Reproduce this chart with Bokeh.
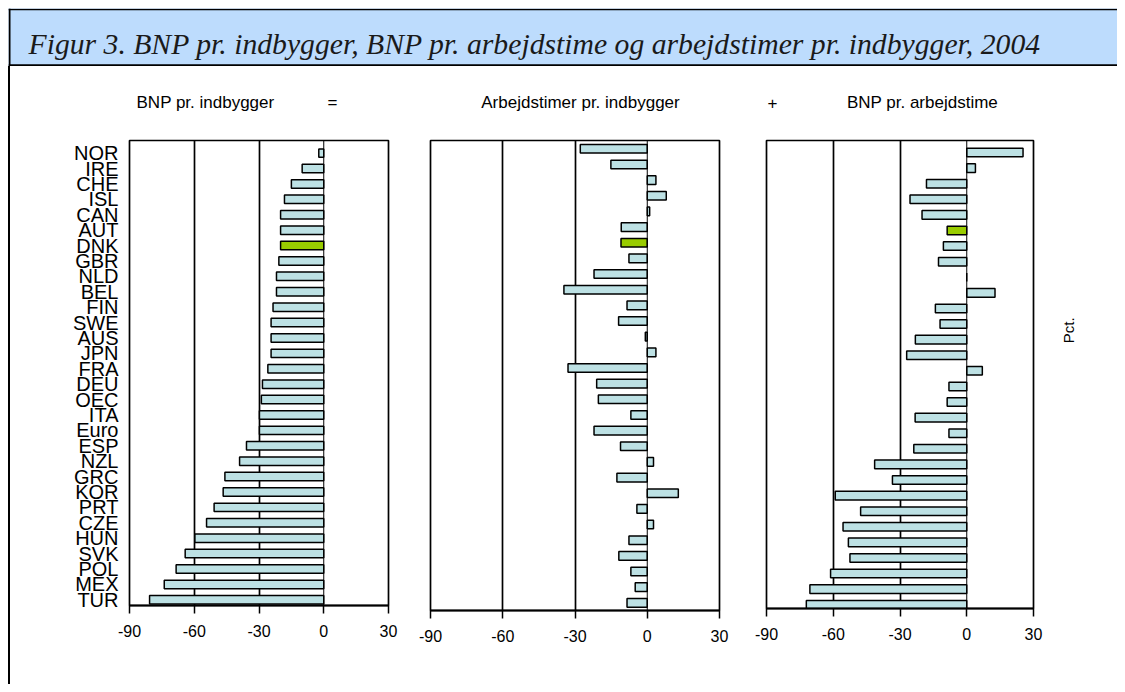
import math
from bokeh.plotting import figure
from bokeh.layouts import row, column
from bokeh.models import Range1d, FixedTicker, Div, ColumnDataSource, Span
from bokeh.core.properties import value
from bokeh.embed import file_html
from bokeh.resources import INLINE

# ---------------- data ----------------
countries = ["NOR", "IRE", "CHE", "ISL", "CAN", "AUT", "DNK", "GBR", "NLD", "BEL",
             "FIN", "SWE", "AUS", "JPN", "FRA", "DEU", "OEC", "ITA", "Euro", "ESP",
             "NZL", "GRC", "KOR", "PRT", "CZE", "HUN", "SVK", "POL", "MEX", "TUR"]

gdp_per_capita = [-2.3, -10.0, -15.0, -18.2, -20.0, -20.0, -20.0, -20.8, -21.9, -21.9,
                  -23.5, -24.4, -24.4, -24.4, -25.9, -28.4, -28.9, -29.8, -29.8, -35.8,
                  -39.0, -45.8, -46.6, -50.8, -54.3, -59.7, -64.2, -68.4, -73.9, -80.7]

hours_per_capita = [-27.8, -15.1, 3.6, 7.9, 1.0, -10.8, -10.9, -7.6, -22.1, -34.6,
                    -8.4, -11.9, -0.8, 3.6, -32.9, -21.0, -20.3, -6.8, -22.1, -11.1,
                    2.6, -12.6, 12.9, -4.3, 2.6, -7.6, -11.8, -6.8, -5.0, -8.4]

gdp_per_hour = [25.3, 3.9, -18.1, -25.5, -20.1, -8.8, -10.5, -12.7, 0.0, 12.7,
                -14.1, -12.0, -23.1, -27.0, 7.0, -8.0, -8.8, -23.2, -8.0, -23.8,
                -41.4, -33.4, -59.1, -47.7, -55.6, -53.2, -52.5, -61.2, -70.5, -72.1]

highlight = ["DNK", "DNK", "AUT"]   # highlighted (green) bar per panel

x_ticks = [-90, -60, -30, 0, 30]

title_text = "Figur 3. BNP pr. indbygger, BNP pr. arbejdstime og arbejdstimer pr. indbygger, 2004"
headers = ["BNP pr. indbygger", "=", "Arbejdstimer pr. indbygger", "+", "BNP pr. arbejdstime"]
unit_label = "Pct."

# ---------------- styles ----------------
BAR = "#BDE1E4"
GREEN = "#99CC00"
BAND = "#BDDCFD"
SANS = "Liberation Sans"

n = len(countries)
ypos = [n - 1 - i for i in range(n)]


def bare(fig):
    fig.grid.visible = False
    fig.outline_line_color = None
    return fig


# title band (open on the right, like the reference)
tf = figure(width=1109, height=58, x_range=Range1d(8, 1117), y_range=Range1d(66, 8),
            min_border=0, toolbar_location=None, output_backend="svg",
            x_axis_location=None, y_axis_location=None)
tf.grid.visible = False
tf.background_fill_color = BAND
tf.outline_line_color = None
tf.add_layout(Span(location=9, dimension="width", line_color="black", line_width=1.5))
tf.add_layout(Span(location=65, dimension="width", line_color="black", line_width=2.5))
tf.add_layout(Span(location=9, dimension="height", line_color="black", line_width=2))
tf.text(x=[28], y=[43], text=[title_text], text_font=value("Liberation Serif"),
        text_font_style="italic", text_font_size="29.7px", text_baseline="middle",
        text_align="left", text_color="#1a1a1a")

# header strip
hf = bare(figure(width=1107, height=62, x_range=Range1d(10, 1117), y_range=Range1d(128, 66),
                 min_border=0, toolbar_location=None, output_backend="svg",
                 x_axis_location=None, y_axis_location=None))
hf.text(x=[205, 332, 580, 772, 922], y=[102] * 5, text=headers, text_font=value(SANS),
        text_font_size="17px", text_align="center", text_baseline="middle", text_color="black")


def panel(vals, hl, fw, fh, bl, br, bt, ylo, yhi, labels):
    p = figure(frame_width=fw, frame_height=fh, min_border_left=bl, min_border_right=br,
               min_border_top=bt, min_border_bottom=79,
               x_range=Range1d(-90, 30), y_range=Range1d(ylo, yhi),
               toolbar_location=None, output_backend="svg",
               y_axis_location="left" if labels else None)
    colors = [GREEN if c == hl else BAR for c in countries]
    src = ColumnDataSource(dict(y=ypos, v=vals, c=colors))
    p.hbar(y="y", left=0, right="v", height=0.55, fill_color="c", line_color="black",
           line_width=1.5, source=src)
    p.add_layout(Span(location=0, dimension="height", line_color="black", line_width=1))
    p.xgrid.ticker = FixedTicker(ticks=[-60, -30])
    p.xgrid.grid_line_color = "black"
    p.xgrid.grid_line_width = 1.7
    p.ygrid.visible = False
    p.outline_line_color = "black"
    p.outline_line_width = 1.7
    ax = p.xaxis[0]
    ax.ticker = FixedTicker(ticks=x_ticks)
    ax.major_label_overrides = {t: str(t) for t in x_ticks}
    ax.major_label_text_font = SANS
    ax.major_label_text_font_size = "16px"
    ax.major_label_text_color = "black"
    ax.axis_line_width = 2
    ax.axis_line_color = "black"
    ax.major_tick_out = 8
    ax.major_tick_in = 0
    ax.major_tick_line_width = 1.5
    ax.minor_tick_out = 0
    ax.minor_tick_in = 0
    ax.major_label_standoff = 11
    if labels:
        ya = p.yaxis[0]
        ya.ticker = FixedTicker(ticks=ypos)
        ya.major_label_overrides = {y: c for y, c in zip(ypos, countries)}
        ya.major_label_text_font = SANS
        ya.major_label_text_font_size = "20px"
        ya.major_label_text_color = "black"
        ya.axis_line_color = None
        ya.major_tick_out = 0
        ya.major_tick_in = 0
        ya.minor_tick_out = 0
        ya.minor_tick_in = 0
        ya.major_label_standoff = 11
    return p


p1 = panel(gdp_per_capita, highlight[0], 259, 465, 119, 22, 12, -0.37, n - 1 + 0.82, True)
p2 = panel(hours_per_capita, highlight[1], 289, 470, 20, 20, 7, -0.49, n - 1 + 0.53, False)
p3 = panel(gdp_per_hour, highlight[2], 267, 468, 27, 20, 9, -0.24, n - 1 + 0.77, False)

pf = bare(figure(width=64, height=556, x_range=Range1d(1053, 1117), y_range=Range1d(684, 128),
                 min_border=0, toolbar_location=None, output_backend="svg",
                 x_axis_location=None, y_axis_location=None))
pf.text(x=[1068], y=[355], text=[unit_label], angle=math.pi / 2, text_font=value(SANS),
        text_font_size="15px", text_align="center", text_baseline="middle", text_color="black")

line_div = Div(text="", width=2, height=618, margin=0, styles={"background-color": "black"})

layout = column(tf, row(line_div, column(hf, row(p1, p2, p3, pf))), margin=(8, 0, 0, 8))

open("out.html", "w").write(file_html(layout, INLINE, title="Figur 3"))
